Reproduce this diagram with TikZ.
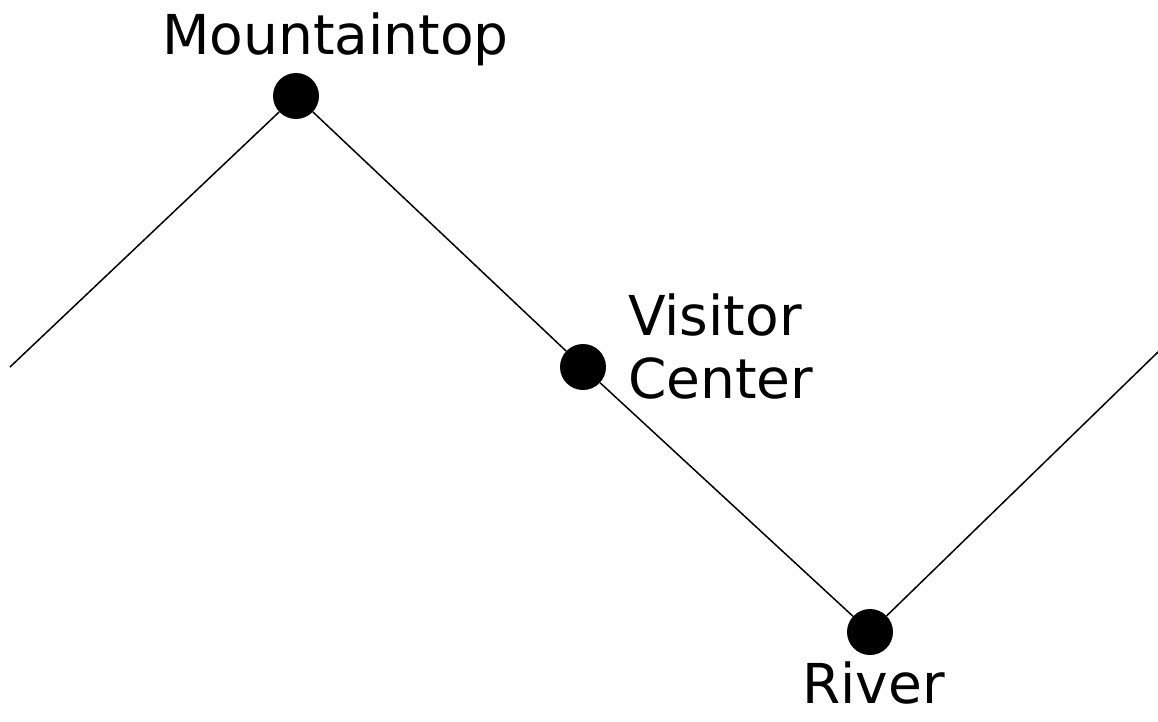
\documentclass[tikz,border=0pt]{standalone}
\usepackage{fontspec}
\setmainfont{DejaVu Sans}
\begin{document}
\begin{tikzpicture}[x=1pt,y=-1pt,
  dot/.style={circle,fill=black,inner sep=0pt,minimum size=46pt},
  lbl/.style={anchor=base west,inner sep=0pt,font=\fontsize{55}{63}\selectfont},
  path/.style={line width=1.5pt}]
\useasboundingbox (0,0) rectangle (1158,722);
\coordinate (L) at (10,367);
\coordinate (R) at (1158,352);
\node[dot] (m) at (296,96) {};
\node[dot] (v) at (583,367) {};
\node[dot] (r) at (870,632) {};
\draw[path] (L) -- (m) -- (v) -- (r) -- (R);
\node[lbl] (tm) at (162,55) {Mountaintop};
\node[lbl] (tv) at (628,335) {Visitor};
\node[lbl] (tc) at (628,398) {Center};
\node[lbl] (tr) at (802,703) {River};
\end{tikzpicture}
\end{document}
